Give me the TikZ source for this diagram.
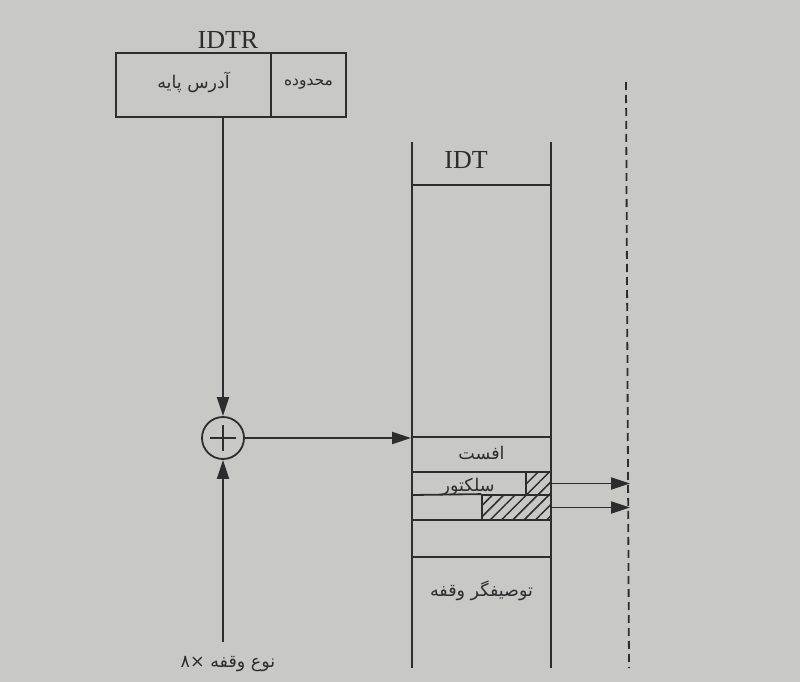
\documentclass[tikz,border=0pt]{standalone}
\usepackage{fontspec}
\setmainfont{Liberation Serif}
\newfontfamily\arabicfont[Script=Arabic]{DejaVu Sans}
\TeXXeTstate=1
\usetikzlibrary{arrows.meta,patterns.meta}
\definecolor{bg}{RGB}{200,200,197}
\definecolor{ink}{RGB}{45,45,45}
\begin{document}
\begin{tikzpicture}[x=1pt,y=-1pt,
  ln/.style={draw=ink, line width=1.8pt},
  box/.style={ln, rectangle, inner sep=0pt, text=ink},
  fa/.style={font=\arabicfont\fontsize{17.5}{20}\selectfont, text=ink, inner sep=0pt},
  lat/.style={font=\fontsize{26}{29}\selectfont, text=ink, inner sep=0pt},
  tip/.style={-{Triangle[length=19pt,width=12pt]}},
  hatch/.style={pattern={Lines[angle=45,distance=8pt,line width=1.5pt]}, pattern color=ink},
  dsh/.style={ln, line width=1.8pt, dash pattern=on 8pt off 5pt}]
\fill[bg] (0,0) rectangle (800,682);
\useasboundingbox (0,0) rectangle (800,682);

% IDTR
\node[lat] (idtrl) at (228,40) {IDTR};
\node[box, minimum width=155pt, minimum height=64pt] (base) at (193.5,85) {};
\node[fa] (basel) at (193.5,82) {\beginR آدرس پایه\endR};
\node[box, minimum width=75pt, minimum height=64pt] (limit) at (308.5,85) {};
\node[fa, font=\arabicfont\fontsize{15.5}{18}\selectfont] (limitl) at (308.5,84) {\beginR محدوده\endR};

% adder
\node[ln, circle, minimum size=42pt, inner sep=0pt] (sum) at (223,438) {};
\draw[ln] ([xshift=-13pt]sum.center) -- ([xshift=13pt]sum.center);
\draw[ln] ([yshift=-13pt]sum.center) -- ([yshift=13pt]sum.center);
\coordinate (bot) at (223,642);
\node[fa] (typ) at (228,664) {\beginR نوع وقفه ×۸\endR};

% IDT
\coordinate (ltop) at (412,142);
\coordinate (lbot) at (412,668);
\coordinate (rtop) at (551,142);
\coordinate (rbot) at (551,668);
\draw[ln] (ltop) -- (lbot);
\draw[ln] (rtop) -- (rbot);
\node[lat] (idtl) at (466,160) {IDT};
\draw[ln] (412,185) -- (551,185);
\node[box, minimum width=139pt, minimum height=35pt] (off) at (481.5,454.5) {};
\node[fa] (offl) at (481.5,453) {\beginR افست\endR};
\node[box, hatch, minimum width=25pt, minimum height=23pt] (h1) at (538.5,483.5) {};
\node[box, hatch, minimum width=69pt, minimum height=25pt] (h2) at (516.5,507.5) {};
\draw[ln] (412,495) -- (h2.north west);
\draw[ln] (412,520) -- (551,520);
\draw[ln] (412,557) -- (551,557);
\node[fa] (sel) at (468,487) {\beginR سلکتور\endR};
\node[fa] (desc) at (481.5,591) {\beginR توصیفگر وقفه\endR};

% dashed boundary
\coordinate (dtop) at (626,82);
\coordinate (dbot) at (629,668);
\draw[dsh] (dtop) -- (dbot);
\coordinate (d1) at (630,483.5);
\coordinate (d2) at (630,507.5);

% connectors
\draw[ln, tip] (sum.north |- base.south) -- (sum.north);
\draw[ln, tip] (bot) -- (sum.south);
\draw[ln, tip] (sum.east) -- (sum.east -| off.west);
\draw[ln, tip] (h1.east) -- (d1);
\draw[ln, tip] (h2.east) -- (d2);
\end{tikzpicture}
\end{document}
